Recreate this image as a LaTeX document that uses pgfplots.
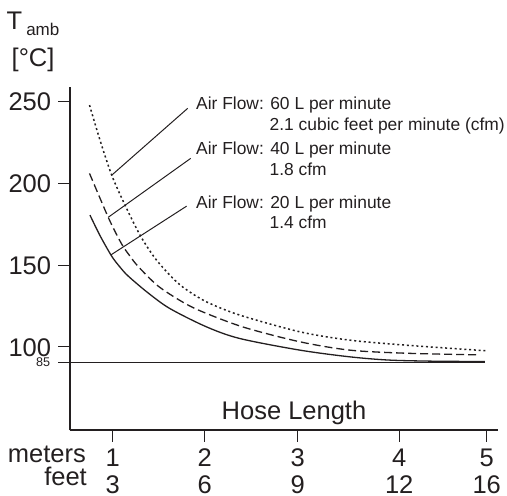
\documentclass[border=0pt]{standalone}
\usepackage{pgfplots}
\pgfplotsset{compat=1.18}
\usepackage{fontspec}
\setmainfont{Liberation Sans}
\definecolor{ink}{RGB}{35,31,32}
\begin{document}
\begin{tikzpicture}
\begin{axis}[
  scale only axis, width=428.3pt, height=343.3pt,
  xmin=0.543, xmax=5.124, ymin=49, ymax=259,
  axis x line=bottom, axis y line=left,
  axis line style={-, line width=2.3pt, ink},
  xtick={1,1.984,2.979,4.064,5},
  xticklabels={{1\\3},{2\\6},{3\\9},{4\\12},{5\\16}},
  xticklabel style={align=center, font=\fontsize{25.5}{26.6}\selectfont, inner sep=0pt, text=ink, yshift=-7pt, text depth=0pt},
  ytick={100,150,200,250},
  yticklabel style={font=\fontsize{25.5}{26.6}\selectfont, inner sep=0pt, text=ink, xshift=-7pt, text height=18.3pt, text depth=0pt},
  extra y ticks={90.45}, extra y tick labels={85},
  extra y tick style={yticklabel style={font=\fontsize{12.6}{14}\selectfont, xshift=-1pt, text height=9pt, text depth=0pt}},
  tick align=outside, major tick length=11.7pt,
  tick style={line width=1pt, ink},
  /pgf/number format/assume math mode=true,
  clip=false,
]
% 20 L per minute (solid)
\addplot[ink, line width=1.3pt, smooth] coordinates {
(0.757,180.6) (0.864,168.1) (0.989,155.5) (1.078,148.8) (1.166,143.3) (1.381,132.9) (1.613,123.4)
(2.005,112.2) (2.361,105.1) (3.003,98.0) (3.538,93.9) (3.966,91.9) (4.50,91.2) (4.98,91.1)};
% 40 L per minute (dashed)
\addplot[ink, line width=1.3pt, smooth, dash pattern=on 8pt off 4pt] coordinates {
(0.752,206.1) (0.864,191.0) (0.971,176.9) (1.096,162.9) (1.185,155.5) (1.274,149.1) (1.488,137.1)
(1.773,126.6) (2.005,120.4) (2.414,111.8) (3.003,103.1) (3.538,98.0) (4.148,96.1) (4.928,95.1)};
% 60 L per minute (dotted)
\addplot[ink, line width=1.5pt, smooth, dash pattern=on 2pt off 2.8pt] coordinates {
(0.752,247.9) (0.864,226.5) (0.989,205.1) (1.132,186.7) (1.292,168.4) (1.452,154.3)
(1.631,142.7) (1.773,135.6) (2.005,127.5) (2.361,119.4) (3.003,109.2) (3.538,104.1)
(4.148,101.0) (5.0,97.6)};
% 85 reference line
\draw[ink, line width=1.3pt] (axis cs:0.543,90.45) -- (axis cs:4.98,90.45);
% leader lines
\draw[ink, line width=1pt] (axis cs:0.989,205.0) -- (axis cs:1.802,245.9);
\draw[ink, line width=1pt] (axis cs:0.953,179.3) -- (axis cs:1.834,215.3);
\draw[ink, line width=1pt] (axis cs:0.979,156.2) -- (axis cs:1.791,186.1);
% texts
\begin{scope}[every node/.style={inner sep=0, text=ink}]
\node[anchor=base west, font=\fontsize{17.4}{20}\selectfont] at (axis cs:1.891,245.47) {Air Flow: 60 L per minute};
\node[anchor=base west, font=\fontsize{17.4}{20}\selectfont] at (axis cs:2.677,232.62) {2.1 cubic feet per minute (cfm)};
\node[anchor=base west, font=\fontsize{17.4}{20}\selectfont] at (axis cs:1.891,217.93) {Air Flow: 40 L per minute};
\node[anchor=base west, font=\fontsize{17.4}{20}\selectfont] at (axis cs:2.677,205.08) {1.8 cfm};
\node[anchor=base west, font=\fontsize{17.4}{20}\selectfont] at (axis cs:1.891,184.88) {Air Flow: 20 L per minute};
\node[anchor=base west, font=\fontsize{17.4}{20}\selectfont] at (axis cs:2.677,172.64) {1.4 cfm};
\node[anchor=base east, font=\fontsize{25.5}{30}\selectfont] at (axis cs:0.7144,29.44) {meters};
\node[anchor=base east, font=\fontsize{25.5}{30}\selectfont] at (axis cs:0.7251,15.36) {feet};
\node[anchor=base, font=\fontsize{25.5}{30}\selectfont] at (axis cs:2.939,55.75) {Hose Length};
\node[anchor=base west, font=\fontsize{25.5}{30}\selectfont] at (axis cs:-0.1358,294.25) {T\hspace{4pt}\raisebox{-6pt}{\fontsize{17}{20}\selectfont amb}};
\node[anchor=base west, font=\fontsize{25.5}{30}\selectfont] at (axis cs:-0.0824,271.36) {[°C]};
\end{scope}
\coordinate (pageLL) at (axis cs:-0.2053,9.24);
\coordinate (pageUR) at (axis cs:5.2171,312.18);
\end{axis}
\pgfresetboundingbox
\path (pageLL) rectangle (pageUR);
\end{tikzpicture}
\end{document}
